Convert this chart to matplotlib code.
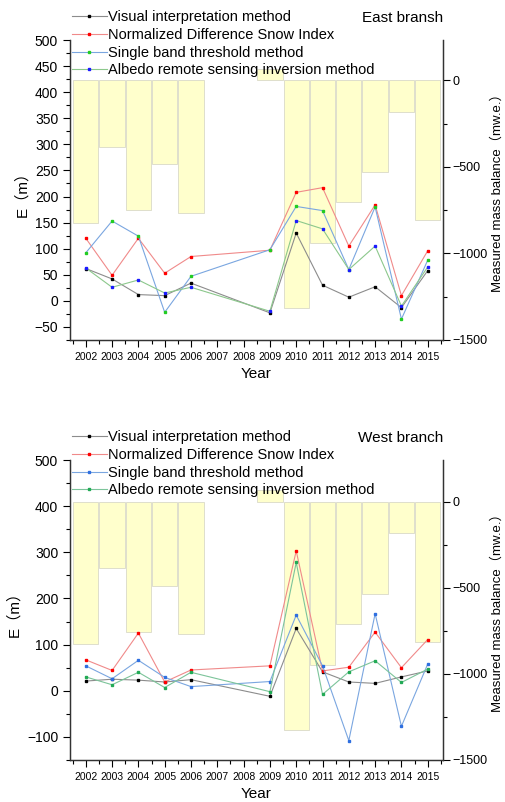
import matplotlib
matplotlib.use("Agg")
import matplotlib.pyplot as plt
from matplotlib.ticker import MultipleLocator
import numpy as np

plt.rcParams['font.family'] = ['Liberation Sans', 'Noto Sans CJK SC', 'DejaVu Sans']

years = [2002, 2003, 2004, 2005, 2006, 2009, 2010, 2011, 2012, 2013, 2014, 2015]
bar_years = [2002, 2003, 2004, 2005, 2006, 2009, 2010, 2011, 2012, 2013, 2014, 2015]

# East branch
east_visual = [62, 42, 12, 10, 34, -23, 130, 30, 7, 27, -13, 58]
east_ndsi = [120, 49, 120, 53, 85, 97, 208, 217, 105, 184, 10, 96]
east_single = [92, 153, 124, -22, 47, 98, 181, 173, 60, 180, -35, 78]
east_albedo = [63, 26, 40, 15, 26, -20, 154, 138, 60, 105, -10, 65]
east_balance = [-823, -383, -749, -481, -765, 65, -1314, -938, -703, -528, -183, -807]

# West branch
west_visual = [21, 25, 23, 19, 24, -12, 135, 41, 19, 16, 30, 43]
west_ndsi = [67, 44, 125, 19, 45, 54, 303, 43, 51, 127, 50, 111]
west_single = [54, 26, 66, 29, 9, 20, 164, 54, -108, 167, -77, 58]
west_albedo = [30, 13, 40, 7, 40, -2, 278, -8, 41, 65, 18, 47]
west_balance = [-827, -385, -754, -488, -769, 68, -1326, -945, -707, -533, -182, -812]

labels = ['Visual interpretation method', 'Normalized Difference Snow Index',
          'Single band threshold method', 'Albedo remote sensing inversion method']

cjk = ['Liberation Sans', 'Noto Sans CJK SC']


def draw_panel(f, rect, series, styles, balance, title, ylim, ymajor, yminor, r_top):
    ax = f.add_axes(rect)
    ax2 = ax.twinx()

    ax2.bar(bar_years, balance, width=0.96, color='#ffffcc', edgecolor='#d9d9c8',
            linewidth=0.6)
    ax2.set_ylim(-1500, r_top)
    ax2.yaxis.set_major_locator(MultipleLocator(500))
    ax2.yaxis.set_minor_locator(MultipleLocator(250))
    ax2.set_ylabel('Measured mass balance（mw.e.）', fontsize=9.5, family=cjk)
    ax2.yaxis.set_label_coords(1.128, 0.5)
    ax2.tick_params(labelsize=9, length=5, width=0.8, pad=2)
    ax2.tick_params(which='minor', length=3, width=0.8)

    for vals, (lc, mc), lab in zip(series, styles, labels):
        ax.plot(years, vals, '-s', color=lc, mfc=mc, mec=mc, ms=1.8, lw=0.8, label=lab)

    ax.set_zorder(ax2.get_zorder() + 1)
    ax.patch.set_visible(False)

    ax.set_xlim(2001.4, 2015.58)
    ax.set_ylim(*ylim)
    ax.set_xticks(range(2002, 2016))
    ax.xaxis.set_minor_locator(MultipleLocator(0.5))
    ax.yaxis.set_major_locator(MultipleLocator(ymajor))
    ax.yaxis.set_minor_locator(MultipleLocator(yminor))
    ax.tick_params(axis='y', labelsize=10, length=5, width=0.8)
    ax.tick_params(axis='x', labelsize=7.5, length=5, width=0.8)
    ax.tick_params(which='minor', length=3, width=0.8)
    ax.set_xlabel('Year', fontsize=11)
    ax.set_ylabel('E（m）', fontsize=11, family=cjk)

    for a in (ax, ax2):
        a.spines['top'].set_visible(False)
        for s in ('left', 'right', 'bottom'):
            a.spines[s].set_linewidth(0.9)
            a.spines[s].set_color('#333333')

    ax.legend(loc='upper left', bbox_to_anchor=(0.005, 1.1), frameon=False,
              fontsize=10.5, handlelength=2.4, handletextpad=0.1,
              labelspacing=0.26, borderpad=0, borderaxespad=0)
    ax.text(1.0, 1.075, title, transform=ax.transAxes, ha='right', va='center',
            fontsize=11)
    return ax


f = plt.figure(figsize=(5.05, 8.02), dpi=100)

draw_panel(f, [0.1386, 0.5761, 0.7386, 0.374],
           [east_visual, east_ndsi, east_single, east_albedo],
           [('#8c8c8c', 'black'), ('#f08a8a', 'red'), ('#7aa6e0', '#22cc22'),
            ('#8cc88c', '#1a1aff')],
           east_balance, 'East bransh', (-75, 500), 50, 25, 234)

draw_panel(f, [0.1386, 0.0524, 0.7386, 0.374],
           [west_visual, west_ndsi, west_single, west_albedo],
           [('#8c8c8c', 'black'), ('#f08a8a', 'red'), ('#7aa6e0', '#2f6fe0'),
            ('#7cc49a', '#22aa55')],
           west_balance, 'West branch', (-150, 500), 100, 50, 244)

f.savefig('out.png', dpi=100)
